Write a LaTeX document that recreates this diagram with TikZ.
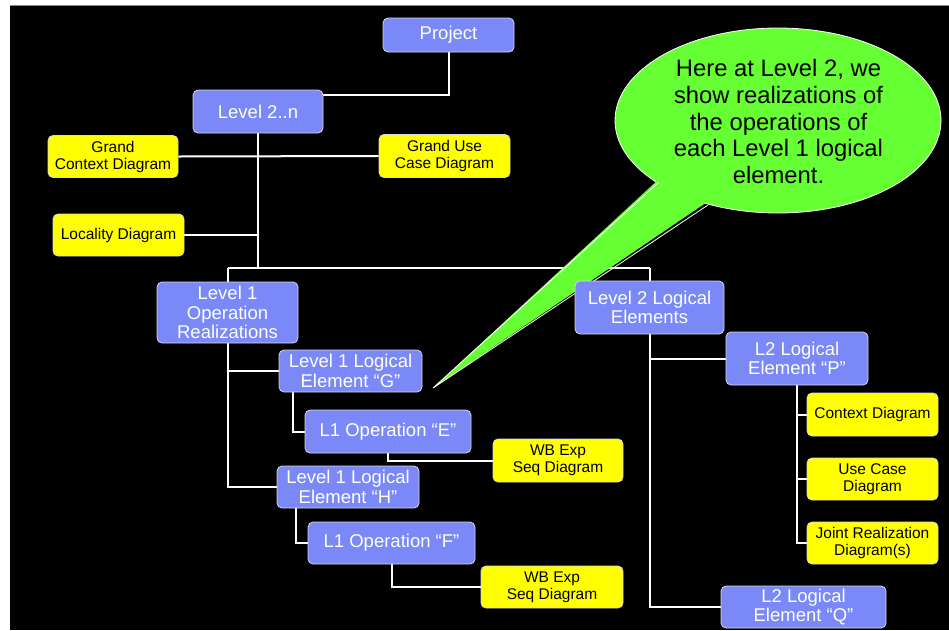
\documentclass[tikz,border=0pt]{standalone}
\usepackage{fontspec}
\setmainfont{Liberation Sans}
\usetikzlibrary{calc}
\pgfdeclarelayer{bg}
\pgfdeclarelayer{mid}
\pgfsetlayers{bg,mid,main}
\definecolor{boxblue}{RGB}{122,137,247}
\definecolor{boxyel}{RGB}{255,255,0}
\definecolor{callgreen}{RGB}{102,255,51}
\definecolor{topline}{RGB}{108,123,224}
\definecolor{bordergray}{RGB}{215,215,225}
\tikzset{
  bbox/.style={rectangle, rounded corners=5pt, fill=boxblue, draw=bordergray, line width=0.8pt,
    text=white, align=center, inner sep=0pt, font=\fontsize{18.5}{19.5}\selectfont},
  ybox/.style={rectangle, rounded corners=5pt, fill=boxyel, draw=bordergray, line width=0.8pt,
    text=black, align=center, inner sep=0pt, font=\fontsize{15.5}{17}\selectfont},
  conn/.style={draw=white, line width=2pt},
}
\begin{document}
\begin{tikzpicture}[x=1pt,y=-1pt]
\useasboundingbox (0,0) rectangle (949,630);
\begin{pgfonlayer}{bg}
\fill[white] (0,0) rectangle (949,630);
\fill[black] (10,5) rectangle (949,630);
\draw[topline, line width=1.2pt] (10,5.6) -- (949,5.6);
\end{pgfonlayer}

% nodes
\node[bbox, minimum width=131pt, minimum height=34pt] (project) at (448.5,35) {Project};
\node[bbox, minimum width=130pt, minimum height=43pt] (lvl2n) at (258,111.5) {Level 2..n};
\node[ybox, minimum width=130pt, minimum height=42pt] (gcd) at (113,156.5) {Grand\\Context Diagram};
\node[ybox, minimum width=131pt, minimum height=43pt] (gucd) at (444.5,156) {Grand Use\\Case Diagram};
\node[ybox, minimum width=131pt, minimum height=42pt] (loc) at (118.5,235) {Locality Diagram};
\node[bbox, minimum width=141pt, minimum height=61pt] (l1or) at (227.5,312.5) {Level 1\\Operation\\Realizations};
\node[bbox, minimum width=143pt, minimum height=42pt] (leg) at (350.5,371) {Level 1 Logical\\Element “G”};
\node[bbox, minimum width=166pt, minimum height=43pt] (ope) at (388,431.5) {L1 Operation “E”};
\node[ybox, minimum width=130pt, minimum height=43pt] (wb1) at (558,460.5) {WB Exp\\Seq Diagram};
\node[bbox, minimum width=142pt, minimum height=42pt] (leh) at (348,487) {Level 1 Logical\\Element “H”};
\node[bbox, minimum width=167pt, minimum height=42pt] (opf) at (391.5,543) {L1 Operation “F”};
\node[ybox, minimum width=142pt, minimum height=42pt] (wb2) at (552,587) {WB Exp\\Seq Diagram};
\node[bbox, minimum width=149pt, minimum height=53pt] (l2le) at (649.5,307.5) {Level 2 Logical\\Elements};
\node[bbox, minimum width=142pt, minimum height=53pt] (lep) at (797,358.5) {L2 Logical\\Element “P”};
\node[ybox, minimum width=131pt, minimum height=43pt] (ctx) at (872.5,414.5) {Context Diagram};
\node[ybox, minimum width=131pt, minimum height=42pt] (uc) at (872.5,479) {Use Case\\Diagram};
\node[ybox, minimum width=131pt, minimum height=42pt] (jr) at (872.5,543) {Joint Realization\\Diagram(s)};
\node[bbox, minimum width=165pt, minimum height=42pt] (leq) at (803.5,607) {L2 Logical\\Element “Q”};

% connectors
\begin{pgfonlayer}{bg}
\coordinate (pj) at ($(project.south)+(0,43)$);
\draw[conn] (project.south) -- (pj) -| (lvl2n.north);
\coordinate (trunk) at ($(lvl2n.south)+(0,135)$);
\draw[conn] (lvl2n.south) -- (trunk);
\draw[conn] (gcd.east) -- (gucd.west);
\draw[conn] (loc.east) -- (loc.east -| lvl2n.south);
\draw[conn] (l1or.north |- trunk) -- (l2le.north |- trunk);
\draw[conn] (l1or.north |- trunk) -- (l1or.north);
\draw[conn] (l2le.north |- trunk) -- (l2le.north);
\draw[conn] (l1or.south) |- (leh.west);
\draw[conn] (l1or.south |- leg.west) -- (leg.west);
\draw[conn] ([xshift=14pt]leg.south west) |- (ope.west);
\draw[conn] (ope.south) |- (wb1.west);
\draw[conn] ([xshift=19pt]leh.south west) |- (opf.west);
\draw[conn] (opf.south) |- (wb2.west);
\draw[conn] (l2le.south) |- (leq.west);
\draw[conn] (l2le.south |- lep.west) -- (lep.west);
\draw[conn] (lep.south) |- (jr.west);
\draw[conn] (lep.south |- ctx.west) -- (ctx.west);
\draw[conn] (lep.south |- uc.west) -- (uc.west);
\end{pgfonlayer}

% callout
\begin{pgfonlayer}{mid}
\fill[callgreen, draw=white, line width=0.8pt] (778,120.5) ellipse [x radius=163pt, y radius=92.5pt];
\coordinate (tip) at (433,388);
\fill[callgreen] (660,178) -- (tip) -- (710,200) -- cycle;
\draw[white, line width=0.8pt] (658.5,182.5) -- (tip) -- (708,205);
\node[align=center, text=black, font=\fontsize{23.8}{26.7}\selectfont] (note) at (778.5,121.5)
  {Here at Level 2, we\\show realizations of\\the operations of\\each Level 1 logical\\element.};
\end{pgfonlayer}
\end{tikzpicture}
\end{document}
